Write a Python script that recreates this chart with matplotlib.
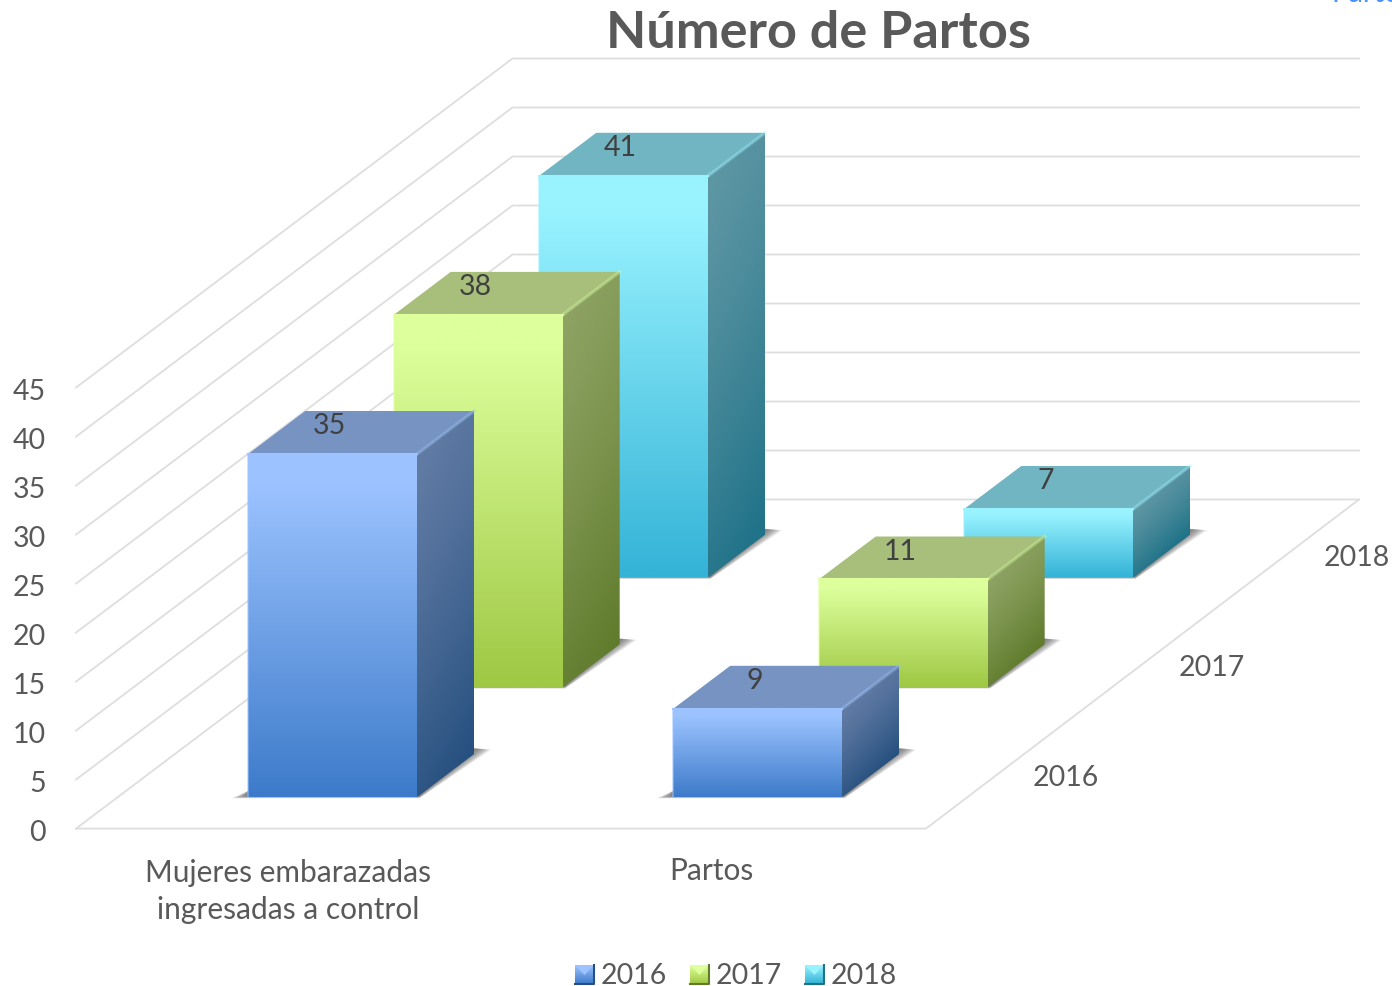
import numpy as np
import matplotlib
matplotlib.use("Agg")
import matplotlib.pyplot as plt
from matplotlib.colors import to_rgb
from matplotlib.patches import Polygon

plt.rcParams['font.family'] = ['Lato', 'DejaVu Sans']

# Data
categories = ["Mujeres embarazadas\ningresadas a control", "Partos"]
series = ["2016", "2017", "2018"]
values_2016 = [35, 9]
values_2017 = [38, 11]
values_2018 = [41, 7]
ticks = [0, 5, 10, 15, 20, 25, 30, 35, 40, 45]

# colours per series: front top, front bottom, side top, side bottom, roof
blue = ['#9cc3ff', '#3d7bca', '#627ca5', '#26507f', '#7693c2']
green = ['#ddff9c', '#9fc844', '#8ea364', '#5f7b2b', '#a8bf7b']
cyan = ['#99f3ff', '#34b3d7', '#5f97a4', '#1f7288', '#71b4c2']
palette = [blue, green, cyan]

# projection of the floor/wall box into picture pixels
X0, Y0 = 76, 829.6
CAT_W = 425
DX, DY = 145.5, 109.7
UNIT = 9.8
BAR_U, BAR_W = 0.3065, 0.3976
BAR_V, BAR_D = 0.29, 0.39
BACK_TRIM = 3.5  # back wall ends a bit short of the floor box


def proj(u, v, h=0):
    return X0 + CAT_W * u + DX * v, Y0 - DY * v - UNIT * h


def grad(c1, c2, t):
    c1, c2 = np.array(to_rgb(c1)), np.array(to_rgb(c2))
    return c1 + (c2 - c1) * t[..., None]


def paint(ax, pts, img, z):
    pts = np.array(pts)
    ext = (pts[:, 0].min(), pts[:, 0].max(), pts[:, 1].max(), pts[:, 1].min())
    im = ax.imshow(img, extent=ext, origin='upper', aspect='auto',
                   interpolation='bilinear', zorder=z)
    im.set_clip_path(Polygon(pts, transform=ax.transData))


def draw_bar(ax, c, s, val, cols, z):
    u0, u1 = c + BAR_U, c + BAR_U + BAR_W
    v0, v1 = s + BAR_V, s + BAR_V + BAR_D
    fl, fr = proj(u0, v0), proj(u1, v0)
    bl, br = proj(u0, v1), proj(u1, v1)
    tfl, tfr = proj(u0, v0, val), proj(u1, v0, val)
    tbl, tbr = proj(u0, v1, val), proj(u1, v1, val)

    # soft shadow on the floor
    n = 16
    for i in range(n):
        e = 17 * (1 - i / n)
        shadow = [(fl[0] - e, fl[1] + 0.15 * e - 1), (fr[0] + 2, fr[1] + 0.15 * e - 1),
                  (br[0] + e, br[1] - 6 + 0.1 * e), (br[0] - 10, br[1] - 6),
                  (fr[0], fr[1] - 6), (fl[0], fl[1] - 6)]
        ax.add_patch(Polygon(shadow, closed=True, fc='#505050', ec='none',
                             alpha=0.075, zorder=z))

    # side, darker to the lower right
    ys = np.linspace(tbr[1], fr[1], 160)
    xs = np.linspace(tfr[0] - 2, br[0], 40)
    xx, yy = np.meshgrid(xs, ys)
    top_edge = tfr[1] + (xx - tfr[0]) * (tbr[1] - tfr[1]) / (tbr[0] - tfr[0])
    frac_y = np.clip((yy - top_edge) / (fr[1] - tfr[1]), 0, 1) ** 1.25
    frac_x = (xx - xs[0]) / (xs[-1] - xs[0])
    paint(ax, [(tfr[0] - 2, tfr[1]), tfr, tbr, br, fr, (fr[0] - 2, fr[1])],
          grad(cols[2], cols[3], 0.85 * frac_y + 0.15 * frac_x), z + 1)

    # front
    t = np.linspace(0, 1, 80)
    t = np.clip((t - 0.08) / 0.92, 0, 1)
    paint(ax, [tfl, tfr, fr, fl], grad(cols[0], cols[1], t)[:, None, :], z + 2)

    # roof
    ax.add_patch(Polygon([tfl, tfr, tbr, tbl], closed=True, fc=cols[4], ec='none', zorder=z + 2))

    # bevel highlights
    ax.plot([tfl[0], tfr[0]], [tfl[1], tfr[1]], color=cols[0], lw=1.5, zorder=z + 3)
    ax.plot([tfr[0], tbr[0]], [tfr[1], tbr[1]], color=cols[0], lw=2.5, alpha=0.35, zorder=z + 3)
    ax.plot([tfl[0], fl[0]], [tfl[1], fl[1]], color=cols[0], lw=1.2, alpha=0.6, zorder=z + 3)


fig = plt.figure(figsize=(13.92, 9.87), dpi=100)
ax = fig.add_axes([0, 0, 1, 1])
ax.axis('off')

# walls and floor
grid_c = '#dedede'
for tk in ticks:
    a, b, d = proj(0, 0, tk), proj(0, 3, tk), proj(2, 3, tk)
    ax.plot([a[0], b[0], d[0] - BACK_TRIM], [a[1], b[1], d[1]], color=grid_c, lw=1.3, zorder=1)
    ax.text(46, a[1] + 3, str(tk), ha='right', va='center', fontsize=20.5, color='#595959')
c0, c1, c2 = proj(0, 0), proj(2, 0), proj(2, 3)
ax.plot([c0[0], c1[0], c2[0] - BACK_TRIM], [c0[1], c1[1], c2[1]], color=grid_c, lw=1.3, zorder=1)

# bars, back row first
all_values = [values_2016, values_2017, values_2018]
z = 10
for s in [2, 1, 0]:
    for c in range(len(categories)):
        draw_bar(ax, c, s, all_values[s][c], palette[s], z)
        top = proj(c + BAR_U + BAR_W / 2, s + BAR_V, all_values[s][c])
        ax.text(top[0] - 3.5, top[1] - 28.5, str(all_values[s][c]), ha='center', va='center',
                fontsize=20.5, color='#404040', zorder=z + 5)
        z += 6

# axis labels
cat_x = [288, 711]
cat_y = [891.5, 871.5]
for x, y, name in zip(cat_x, cat_y, categories):
    ax.text(x, y, name, ha='center', va='center', fontsize=21.5,
            color='#595959', linespacing=1.43)
for s, name in enumerate(series):
    p = proj(2, s + 0.5)
    ax.text(p[0] + 67, p[1] + 3, name, ha='center', va='center', fontsize=20.5, color='#595959')

ax.text(818.5, 34, "Número de Partos", ha='center', va='center', fontsize=37.6,
        fontweight='bold', color='#595959')
ax.text(1331, 2, "Partos", ha='left', va='baseline', fontsize=21, color='#4a90ff')

# legend
sw_x = [575, 690, 805]
for x, name, cols in zip(sw_x, series, palette):
    t = np.linspace(0, 1, 30)
    corners = [(x, 966), (x + 19, 966), (x + 19, 985), (x, 985)]
    paint(ax, corners, grad(cols[0], cols[1], t)[:, None, :], 5)
    ax.add_patch(Polygon([(x, 966), (x + 19, 966), (x + 9.5, 976)], closed=True,
                         fc=cols[0], ec='none', zorder=6))
    ax.plot([x + 19, x + 19, x], [966, 985, 985], color=cols[3], lw=1.5, zorder=6)
    ax.text(x + 26, 976.5, name, ha='left', va='center', fontsize=20.5, color='#595959')

ax.set_xlim(0, 1392)
ax.set_ylim(987, 0)

fig.savefig('out.png', dpi=100)
